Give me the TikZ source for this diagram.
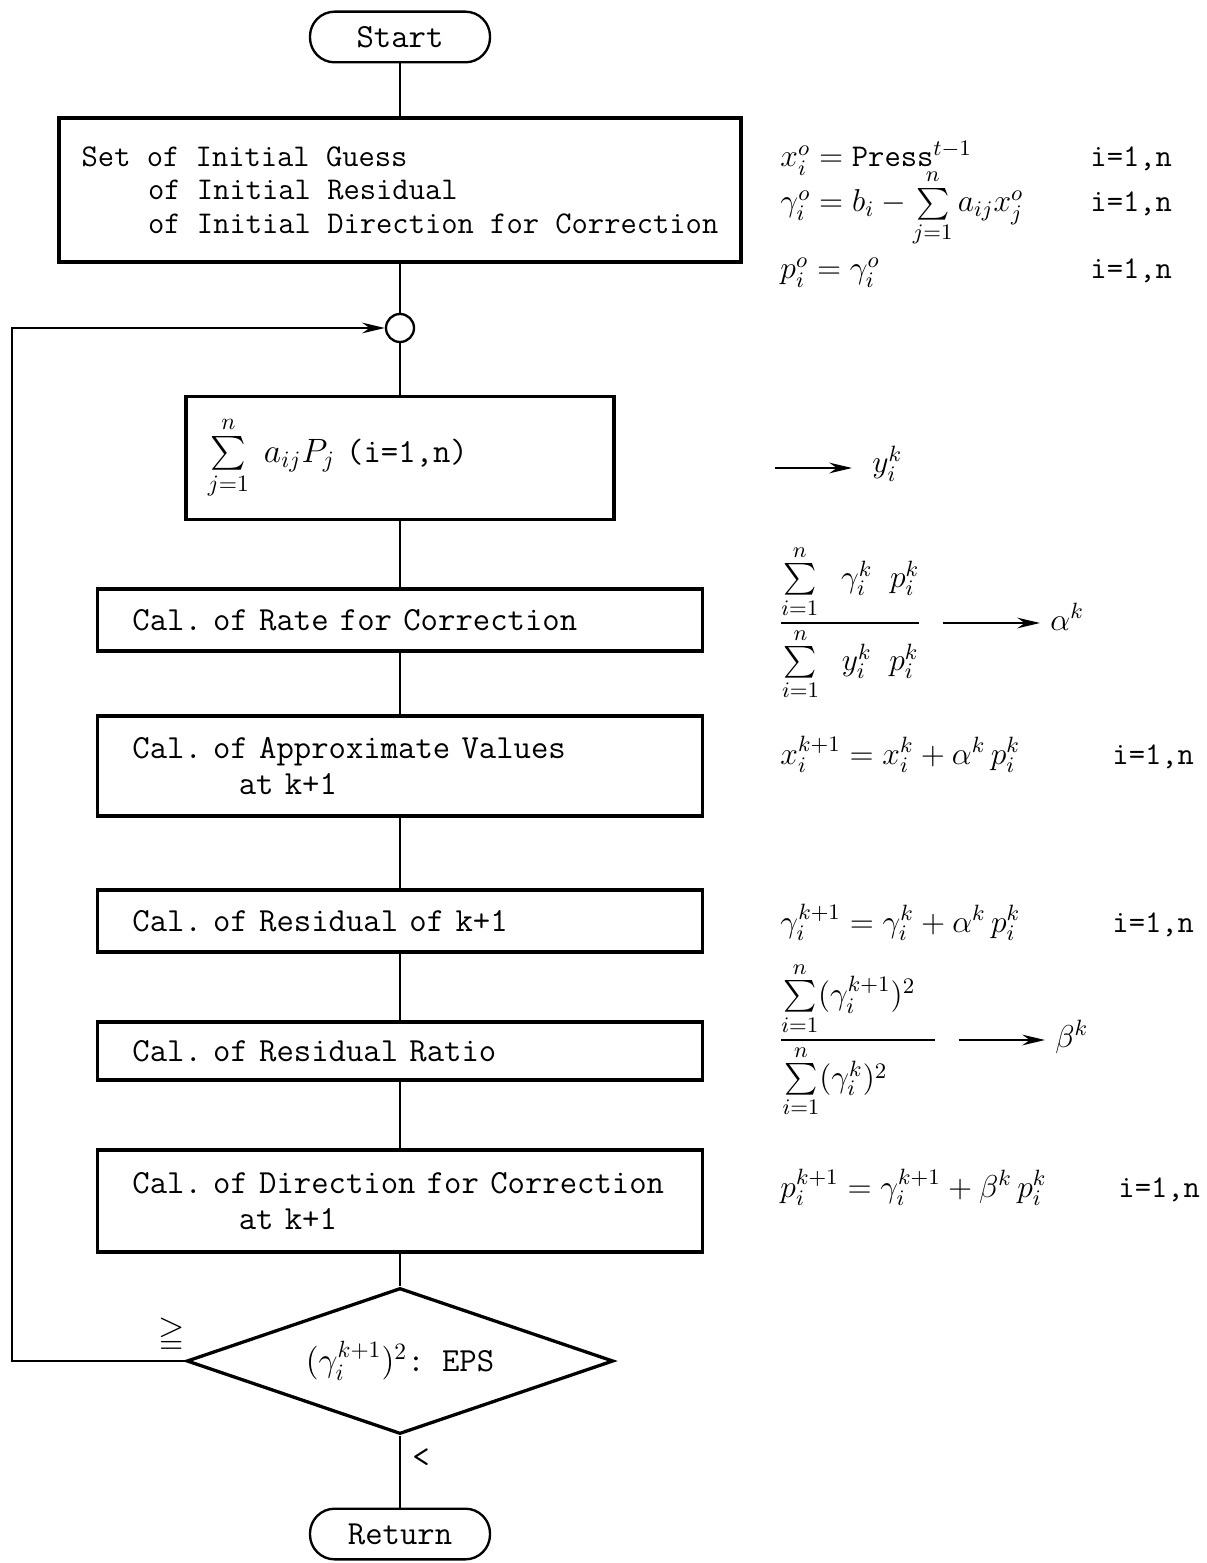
\RequirePackage{fix-cm}
\documentclass[tikz,border=0pt]{standalone}
\usepackage{amsmath,amssymb}
\usetikzlibrary{shapes.geometric,arrows.meta}
\DeclareRobustCommand{\twfont}{\ttfamily\frenchspacing}

\begin{document}
\begin{tikzpicture}[x=0.015cm, y=-0.015cm,
    every node/.style={font=\fontsize{14.4}{15.5}\selectfont\twfont},
    term/.style={rectangle, draw, line width=1pt, rounded corners=0.37cm,
                 minimum width=2.7cm, minimum height=0.76cm},
    calcbox/.style={rectangle, draw, line width=1.4pt, align=left, inner xsep=0.525cm,
                    text width=8.025cm, minimum height=0.93cm},
    decide/.style={diamond, draw, line width=1.4pt, aspect=2.9, inner sep=0pt,
                   minimum width=6.4cm, minimum height=2.19cm},
    joint/.style={circle, draw, line width=1pt, minimum size=0.42cm, inner sep=0pt},
    link/.style={line width=0.7pt},
    flowtip/.style={-{Stealth[length=0.34cm,width=0.16cm]}},
    res/.style={anchor=base west, inner sep=0pt,
                font=\fontsize{13.5}{15.5}\selectfont\twfont}
]
    \useasboundingbox (0,0) rectangle (1206,1563);

    % flow chart
    \node[term] (start) at (400,37) {Start};
    \node[rectangle, draw, line width=1.4pt, align=left, inner xsep=0pt,
          minimum width=10.23cm, minimum height=2.16cm,
          font=\fontsize{13.5}{14.3}\selectfont\twfont] (init) at (400,190)
        {Set of Initial Guess\\\hspace*{2.1em}of Initial Residual\\\hspace*{2.1em}of Initial Direction for Correction};
    \node[joint] (join) at (400,328) {};
    \node[rectangle, draw, line width=1.4pt, align=left, inner xsep=0.33cm,
          text width=5.76cm, minimum height=1.845cm] (sumbox) at (400,458)
        {$\sum\limits_{j=1}^{n}\; a_{ij}P_j$ (i=1,n)};
    \node[calcbox] (rate) at (400,620) {Cal. of Rate for Correction};
    \node[calcbox, minimum height=1.5cm] (approx) at (400,766)
        {Cal. of Approximate Values\\\hspace*{3.15em}at k+1};
    \node[calcbox] (resid) at (400,921) {Cal. of Residual of k+1};
    \node[calcbox, minimum height=0.87cm] (ratio) at (400,1051) {Cal. of Residual Ratio};
    \node[calcbox, minimum height=1.53cm] (direc) at (400,1201)
        {Cal. of Direction for Correction\\\hspace*{3.15em}at k+1};
    \node[decide] (test) at (400,1361) {$(\gamma_i^{k+1})^2$: EPS};
    \node[term] (ret) at (400,1534) {Return};

    \draw[link] (start) -- (init);
    \draw[link] (init) -- (join);
    \draw[link] (join) -- (sumbox);
    \draw[link] (sumbox) -- (rate);
    \draw[link] (rate) -- (approx);
    \draw[link] (approx) -- (resid);
    \draw[link] (resid) -- (ratio);
    \draw[link] (ratio) -- (direc);
    \draw[link] (direc) -- (test);
    \draw[link] (test) -- (ret);
    \draw[link, flowtip] (test.west) -- ++(-173,0) |- (join.west);
    \node (ge) at (172,1335) {$\geqq$};
    \node (lt) at (421,1458) {<};

    % formulas on the right
    \node[res] (x0) at (780,167) {$x_i^o = \text{Press}^{t-1}$};
    \node[res] (x0i) at (1090,167) {i=1,n};
    \node[res] (r0) at (780,212) {$\gamma_i^o = b_i - \sum\limits_{j=1}^{n} a_{ij}x_j^o$};
    \node[res] (r0i) at (1090,212) {i=1,n};
    \node[res] (p0) at (780,279) {$p_i^o = \gamma_i^o$};
    \node[res] (p0i) at (1090,279) {i=1,n};

    \coordinate (ystart) at (775,468);
    \node[res] (yk) at (872,473) {$y_i^k$};
    \draw[link, flowtip, shorten >=0.3cm] (ystart) -- (ystart -| yk.west);

    \node[anchor=west, inner sep=0pt, font=\fontsize{13.5}{15.5}\selectfont] (afrac) at (778,623)
        {$\dfrac{\sum\limits_{i=1}^{n}\;\;\gamma_i^k\;\; p_i^k}{\sum\limits_{i=1}^{n}\;\; y_i^k\;\; p_i^k}$};
    \node[res] (ak) at (1050,630) {$\alpha^k$};
    \draw[link, flowtip, shorten <=0.3cm, shorten >=0.15cm] (afrac.east) -- (afrac.east -| ak.west);

    \node[res] (x1) at (780,764) {$x_i^{k+1} = x_i^k + \alpha^k\, p_i^k$};
    \node[res] (x1i) at (1112,764) {i=1,n};
    \node[res] (r1) at (780,932) {$\gamma_i^{k+1} = \gamma_i^k + \alpha^k\, p_i^k$};
    \node[res] (r1i) at (1112,932) {i=1,n};

    \node[anchor=west, inner sep=0pt, font=\fontsize{13.5}{15.5}\selectfont] (bfrac) at (778,1040)
        {$\dfrac{\sum\limits_{i=1}^{n}(\gamma_i^{k+1})^2\hspace{0.3cm}}{\sum\limits_{i=1}^{n}(\gamma_i^k)^2\hspace{0.7cm}}$};
    \node[res] (bk) at (1055,1047) {$\beta^k$};
    \draw[link, flowtip, shorten <=0.3cm, shorten >=0.15cm] (bfrac.east) -- (bfrac.east -| bk.west);

    \node[res] (p1) at (780,1197) {$p_i^{k+1} = \gamma_i^{k+1} + \beta^k\, p_i^k$};
    \node[res] (p1i) at (1118,1197) {i=1,n};
\end{tikzpicture}
\end{document}
